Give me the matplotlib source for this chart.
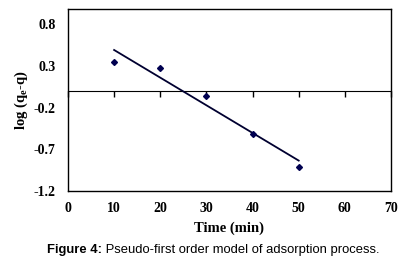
import numpy as np
import matplotlib.pyplot as plt

# data
time_min = [10, 20, 30, 40, 50]
log_qe_q = [0.35, 0.28, -0.06, -0.52, -0.91]

x_ticks = [0, 10, 20, 30, 40, 50, 60, 70]
y_ticks = [-1.2, -0.7, -0.2, 0.3, 0.8]
y_lim = (-1.2, 0.98)

navy = '#000050'

plt.rcParams['font.family'] = ['Liberation Serif', 'DejaVu Serif']

fig = plt.figure(figsize=(4.12, 2.67), dpi=100)
ax = fig.add_axes([0.165, 0.285, 0.784, 0.68])

# linear fit (pseudo-first order)
slope, intercept = np.polyfit(time_min, log_qe_q, 1)
fit_x = np.array([time_min[0], time_min[-1]])
ax.plot(fit_x, slope * fit_x + intercept, color='#000030', linewidth=1.3)
ax.plot(time_min, log_qe_q, linestyle='none', marker='D', markersize=3,
        color=navy)

ax.set_xlim(0, 70)
ax.set_ylim(*y_lim)
ax.set_xticks(x_ticks)
ax.set_yticks(y_ticks)
ax.set_xticklabels([str(v) for v in x_ticks])
ax.set_yticklabels(['%g' % v for v in y_ticks])
ax.tick_params(length=0, labelsize=10, pad=8)
for lab in ax.get_xticklabels() + ax.get_yticklabels():
    lab.set_fontweight('bold')
ax.tick_params(axis='y', pad=9)
for s in ax.spines.values():
    s.set_linewidth(1.0)

# zero line with tick marks pointing up
frac = (0 - y_lim[0]) / (y_lim[1] - y_lim[0])
sec = ax.secondary_xaxis(frac)
sec.set_xticks(x_ticks)
sec.set_xticklabels([])
sec.tick_params(direction='in', length=4, width=1.0)
sec.spines['bottom'].set_linewidth(1.0)

ax.set_xlabel('Time (min)', fontsize=10.5, fontweight='bold', labelpad=5)
ax.set_ylabel('log (q$_\\mathregular{e}$-q)', fontsize=10.5, fontweight='bold')
ax.yaxis.set_label_coords(-0.145, 0.5)
ax.yaxis.label.set_va('center')

# caption
cap1 = fig.text(47 / 412, 0.063, 'Figure 4:', fontsize=9.4, fontweight='bold',
                family='Liberation Sans', ha='left', va='center')
ax.annotate(' Pseudo-first order model of adsorption process.',
            xy=(1, 0), xycoords=cap1, ha='left', va='bottom',
            fontsize=9.4, family='Liberation Sans', annotation_clip=False)
fig.savefig('out.png', dpi=100)
